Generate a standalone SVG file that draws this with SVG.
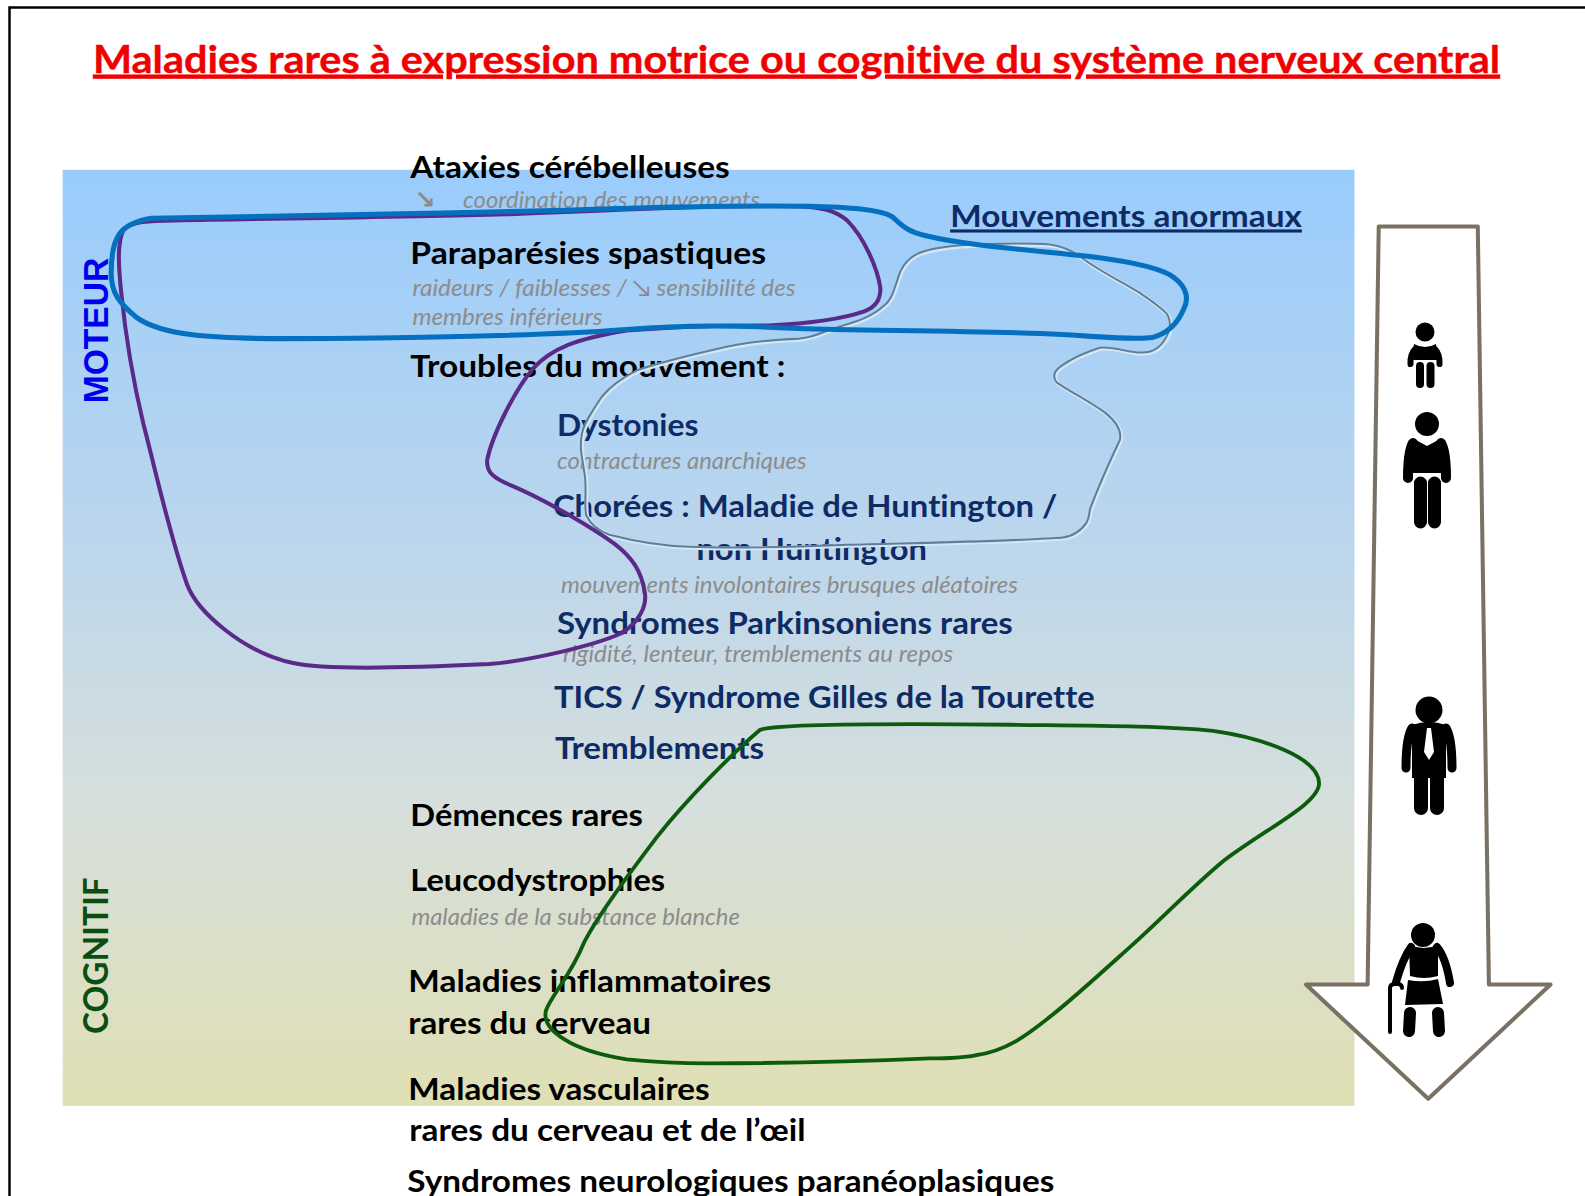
<svg xmlns="http://www.w3.org/2000/svg" width="1585" height="1196" viewBox="0 0 1585 1196">
<style>
text{font-family:"Lato","Noto Sans","Liberation Sans",sans-serif;font-variant-ligatures:none}
.k{font-size:29.5px;font-weight:700;fill:#000}
.n{font-size:30px;font-weight:700;fill:#0f2b66}
.g{font-size:23.5px;font-style:italic;fill:#8c8c8c;font-weight:400}
.c{fill:none;stroke-linejoin:round;stroke-linecap:round}
.w{fill:none;stroke:#000;stroke-linecap:round;stroke-linejoin:round}
</style>
<defs>
<linearGradient id="bg" x1="0" y1="0" x2="0" y2="1">
<stop offset="0" stop-color="#99ccfd"/>
<stop offset="0.4" stop-color="#bcd6ec"/>
<stop offset="0.68" stop-color="#d6dfdc"/>
<stop offset="1" stop-color="#e0dfb4"/>
</linearGradient>
<clipPath id="cut"><rect x="400" y="170" width="400" height="38"/></clipPath>
<path id="thin" d="M964,242C940,243 922,246 910,250C900,254 895,260 891,268C886,280 884,295 875,302C860,316 840,320 821,326C810,331 800,334 791,335C760,336 735,339 706,346C680,352 655,358 631,366C615,374 604,382 595,393C586,407 578,418 576,428C572,445 578,460 579,475C580,490 578,500 580,510C585,520 594,526 603,529C630,536 655,540 682,541C735,543 785,541 837,539C910,537 985,536 1050,532C1062,531 1070,524 1075,517C1078,512 1077,508 1079,502C1088,478 1100,452 1108,435C1110,425 1103,416 1093,408C1076,396 1056,386 1045,378C1040,370 1045,366 1050,362C1060,355 1075,348 1088,344C1105,342 1122,352 1137,348C1148,345 1154,335 1157,326C1158,319 1157,314 1154,310C1146,302 1138,297 1128,290C1108,278 1088,268 1073,257C1062,248 1052,244 1039,242C1015,240 990,241 964,242Z"/>
</defs>
<rect width="1585" height="1196" fill="#fff"/>
<path id="frame" d="M9.500,1196V7.500H1585" fill="none" stroke="#000" stroke-width="2.500"/>
<g transform="scale(1.0108)">
<rect id="panel" x="62" y="168" width="1278" height="926" fill="url(#bg)"/>
<g id="title"><text x="92" y="72" font-size="38.500" font-weight="700" fill="#f00000" stroke="#f00000" stroke-width="0.400" text-decoration="underline" textLength="1392" lengthAdjust="spacingAndGlyphs">Maladies rares à expression motrice ou cognitive du système nerveux central</text></g>
<g id="axis-moteur"><text transform="translate(107,399) rotate(-90)" style="font-family:'Liberation Sans',sans-serif" font-size="35" font-weight="700" fill="#0000f0" textLength="144" lengthAdjust="spacingAndGlyphs">MOTEUR</text></g>
<g id="axis-cognitif"><text transform="translate(107,1023) rotate(-90)" font-size="34.500" font-weight="700" fill="#0b4f10" textLength="155" lengthAdjust="spacingAndGlyphs">COGNITIF</text></g>
<g id="ataxies">
<text class="k" x="406" y="176" textLength="316" lengthAdjust="spacingAndGlyphs">Ataxies  cérébelleuses</text>
<g clip-path="url(#cut)">
<text x="410" y="206" font-size="25" font-weight="700" fill="#8c8c8c" style="font-family:'DejaVu Sans',sans-serif">↘</text>
<text class="g" x="458" y="206" textLength="294" lengthAdjust="spacingAndGlyphs">coordination des mouvements</text>
</g></g>
<g id="paraparesies">
<text class="k" x="406" y="261" textLength="352" lengthAdjust="spacingAndGlyphs">Paraparésies spastiques</text>
<text class="g" x="408" y="293" textLength="379" lengthAdjust="spacingAndGlyphs">raideurs / faiblesses / ↘ sensibilité des</text>
<text class="g" x="408" y="322" textLength="188" lengthAdjust="spacingAndGlyphs">membres inférieurs</text>
</g>
<g id="troubles"><text class="k" x="406" y="373" textLength="371" lengthAdjust="spacingAndGlyphs">Troubles du mouvement :</text></g>
<g id="dystonies">
<text class="n" x="551" y="431" textLength="140" lengthAdjust="spacingAndGlyphs">Dystonies</text>
<text class="g" x="551" y="464" textLength="247" lengthAdjust="spacingAndGlyphs">contractures anarchiques</text>
</g>
<g id="chorees">
<text class="n" x="547" y="511" textLength="499" lengthAdjust="spacingAndGlyphs">Chorées : Maladie de Huntington /</text>
<text class="n" x="689" y="554" textLength="228" lengthAdjust="spacingAndGlyphs">non Huntington</text>
<text class="g" x="555" y="587" textLength="452" lengthAdjust="spacingAndGlyphs">mouvements involontaires brusques aléatoires</text>
</g>
<g id="parkinsoniens">
<text class="n" x="551" y="627" textLength="451" lengthAdjust="spacingAndGlyphs">Syndromes Parkinsoniens rares</text>
<text class="g" x="557" y="655" textLength="386" lengthAdjust="spacingAndGlyphs">rigidité, lenteur, tremblements au repos</text>
</g>
<g id="tics"><text class="n" x="548" y="700" textLength="535" lengthAdjust="spacingAndGlyphs">TICS / Syndrome Gilles de la Tourette</text></g>
<g id="tremblements"><text class="n" x="549" y="751" textLength="207" lengthAdjust="spacingAndGlyphs">Tremblements</text></g>
<g id="demences"><text class="k" x="406" y="817" textLength="230" lengthAdjust="spacingAndGlyphs">Démences rares</text></g>
<g id="leucodystrophies">
<text class="k" x="406" y="881" textLength="252" lengthAdjust="spacingAndGlyphs">Leucodystrophies</text>
<text class="g" x="407" y="915" textLength="325" lengthAdjust="spacingAndGlyphs">maladies de la substance blanche</text>
</g>
<g id="inflammatoires">
<text class="k" x="404" y="981" textLength="359" lengthAdjust="spacingAndGlyphs">Maladies inflammatoires</text>
<text class="k" x="404" y="1023" textLength="240" lengthAdjust="spacingAndGlyphs">rares du cerveau</text>
</g>
<g id="vasculaires">
<text class="k" x="404" y="1088" textLength="298" lengthAdjust="spacingAndGlyphs">Maladies vasculaires</text>
<text class="k" x="405" y="1129" textLength="392" lengthAdjust="spacingAndGlyphs">rares du cerveau et de l’œil</text>
</g>
<g id="paraneoplasiques"><text class="k" x="403" y="1179" textLength="640" lengthAdjust="spacingAndGlyphs">Syndromes neurologiques paranéoplasiques</text></g>
<g id="connectors">
<use href="#thin" class="c" stroke="#d6e6f4" stroke-width="4" transform="translate(1,1)"/>
<use href="#thin" class="c" stroke="#5c7f9a" stroke-width="2"/>
<path id="contour-purple" class="c" stroke="#5a2a88" stroke-width="4" d="M172,218C150,218 128,219 122,228C116,240 117,262 120,290C124,330 130,370 142,420C155,470 168,530 185,578C195,605 240,645 290,656C320,663 400,661 484,657C520,654 585,640 616,626C632,615 640,600 638,587C635,565 625,551 608,538C590,525 545,497 505,480C488,473 481,467 482,455C487,430 510,385 527,365C545,345 570,335 620,327C680,322 730,322 760,322C800,320 835,315 855,308C868,303 871,295 871,285C868,265 855,235 838,218C825,207 810,205 790,204C700,203 600,208 500,212C400,215 280,216 172,218Z"/>
<path id="contour-blue" class="c" stroke="#0670c0" stroke-width="5" d="M110,270C110,235 118,221 150,216C260,213 420,212 560,208C640,205 720,203 800,204C840,205 870,207 882,214C892,222 895,228 915,233C960,244 1030,248 1080,254C1120,259 1150,265 1162,275C1175,285 1176,297 1171,306C1165,320 1155,330 1140,334C1120,337 1080,332 1030,330C950,327 850,327 790,325C730,322 680,321 620,326C540,332 400,335 280,335C210,335 160,332 135,314C118,300 110,290 110,270Z"/>
<path id="contour-green" class="c" stroke="#0d5c0d" stroke-width="3.800" d="M752,722C770,716 900,716 1000,717C1080,718 1150,718 1200,723C1250,730 1305,750 1305,775C1305,795 1255,818 1210,852C1180,877 1150,908 1120,935C1090,962 1065,985 1040,1005C1015,1025 995,1040 965,1044C950,1047 935,1047 920,1047C850,1050 770,1052 700,1052C670,1052 640,1050 620,1048C595,1044 572,1037 558,1028C545,1020 538,1010 540,1000C545,985 565,965 578,932C592,905 622,865 650,828C680,790 725,745 752,722Z"/>
</g>
<g id="mouvements-anormaux"><text x="940" y="225" font-size="31" font-weight="700" fill="#0f2b66" text-decoration="underline" textLength="348" lengthAdjust="spacingAndGlyphs">Mouvements anormaux</text></g>
<path id="age-arrow" d="M1364,224H1462L1473,974H1534L1413,1087L1292,974H1353Z" fill="#fff" stroke="#7a7164" stroke-width="4" stroke-linejoin="round"/>
</g>
<g id="person-child">
<circle cx="1425" cy="332" r="9.500"/>
<path d="M1414,344Q1425,350 1436,344L1437,360H1413Z"/>
<path class="w" stroke-width="6" d="M1415,349Q1410,354 1410.500,364M1435,349Q1440,354 1439.500,364"/>
<path class="w" stroke-width="8" d="M1420,366V384M1430.500,366V384"/>
</g>
<g id="person-adult">
<circle cx="1427" cy="424" r="12"/>
<path d="M1412,438L1427,446L1442,438L1441,473H1413Z"/>
<path class="w" stroke-width="10" d="M1413,443Q1408,452 1408,478M1441,443Q1446,452 1446,478"/>
<path class="w" stroke-width="13" d="M1420.500,483V522M1434.500,483V522"/>
</g>
<g id="person-worker">
<circle cx="1429" cy="710" r="13.500"/>
<path d="M1412,725Q1429,719 1446,725L1446,778H1412Z"/>
<path class="w" stroke-width="9" d="M1412,728Q1406,738 1406,768M1446,728Q1452,738 1452,768"/>
<path class="w" stroke-width="14" d="M1421,778V808M1437,778V808"/>
<path d="M1427,728H1431L1434,752L1429,760L1424,752Z" fill="#fff"/>
</g>
<g id="person-elder">
<circle cx="1423" cy="935" r="12"/>
<path d="M1409,945Q1424,951 1438,945L1438,976Q1424,980 1410,976Z"/>
<path class="w" stroke-width="8" d="M1411,947Q1403,958 1396,982M1437,947Q1446,958 1450,983"/>
<path d="M1408,980Q1424,983 1438,979L1443,1004L1405,1005Z"/>
<path class="w" stroke-width="12" d="M1410,1013L1409,1031M1438,1013L1439,1031"/>
<path class="w" stroke-width="4" d="M1390,1032V988Q1390,984 1395,984H1399Q1402,985 1402,988"/>
</g>
</svg>
